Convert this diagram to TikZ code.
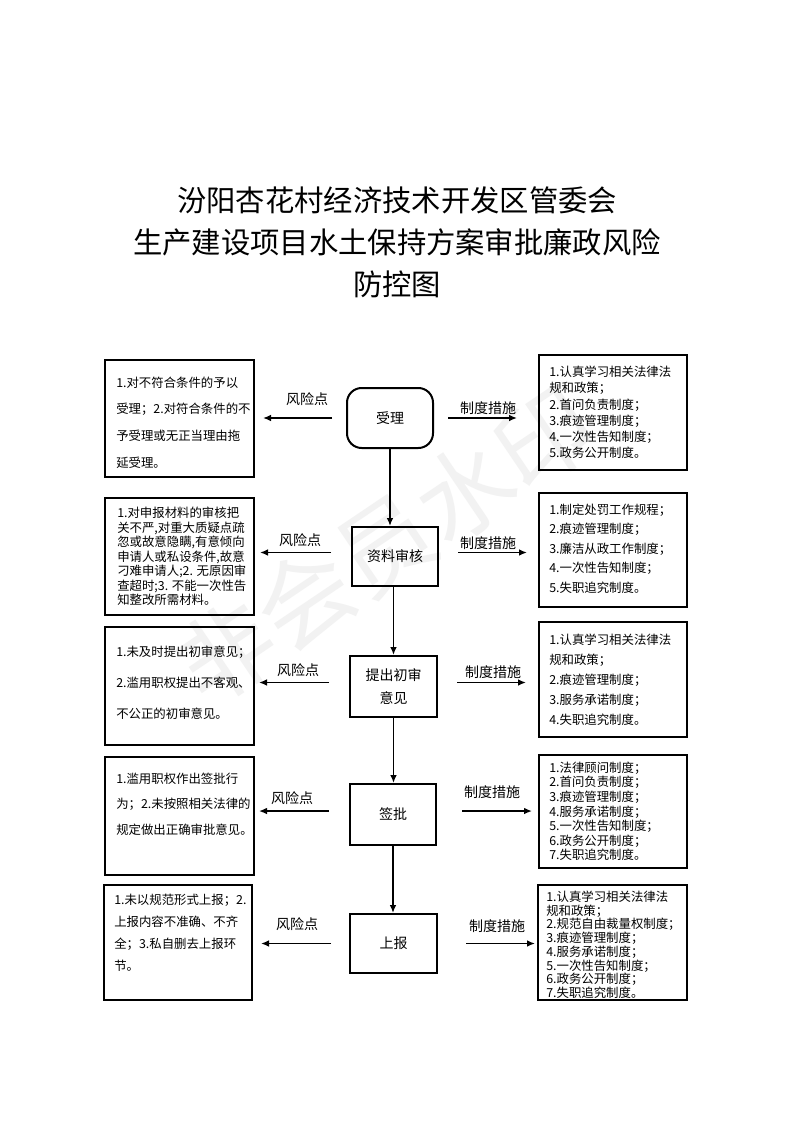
\documentclass[tikz,border=0pt]{standalone}
\usepackage{fontspec}
\setmainfont{Noto Sans CJK SC}
\usetikzlibrary{arrows.meta}
\begin{document}
\begin{tikzpicture}[x=0.75pt,y=-0.75pt,
  box/.style={draw, line width=1.5pt, inner sep=0pt},
  proc/.style={draw, line width=1.5pt, inner sep=0pt, font=\fontsize{10.5}{17}\selectfont, align=center},
  txt/.style={anchor=north west, inner sep=0pt, align=left},
  lab/.style={inner sep=0pt, font=\fontsize{10.5}{12}\selectfont},
  arr/.style={line width=1.1pt, -{Latex[length=6pt,width=5pt]}},
]
\useasboundingbox (0,0) rectangle (793,1122);
\fill[white] (0,0) rectangle (793,1122);
% watermark
\node[text=gray!10, rotate=34, font=\fontsize{72}{72}\selectfont, inner sep=0pt] (wm) at (385,545) {非会员水印};
% title
\node[align=center, inner sep=0pt, font=\fontsize{22}{31.5}\selectfont] (title) at (397,242) {汾阳杏花村经济技术开发区管委会\\生产建设项目水土保持方案审批廉政风险\\防控图};
% process nodes
\node[proc, rounded corners=11pt, minimum width=64.5pt, minimum height=45pt] (sl) at (390,418) {受理};
\node[proc, minimum width=64.5pt, minimum height=44.25pt] (zl) at (395,556.5) {资料审核};
\node[proc, minimum width=65.25pt, minimum height=45.75pt] (tc) at (393.5,686.5) {提出初审\\意见};
\node[proc, minimum width=64.5pt, minimum height=45.75pt] (qp) at (393,814.5) {签批};
\node[proc, minimum width=65.25pt, minimum height=44.25pt] (sb) at (393.5,943.5) {上报};
% left boxes
\node[box, minimum width=111.75pt, minimum height=87.75pt] (L1) at (179.5,418.5) {};
\node[box, minimum width=111.75pt, minimum height=87.75pt] (L2) at (179.5,556.5) {};
\node[box, minimum width=111.75pt, minimum height=88.5pt] (L3) at (179.5,686) {};
\node[box, minimum width=111.75pt, minimum height=88.5pt] (L4) at (179.5,816) {};
\node[box, minimum width=111pt, minimum height=86.25pt] (L5) at (178,942.5) {};
% right boxes
\node[box, minimum width=111pt, minimum height=86.25pt] (R1) at (613,412.5) {};
\node[box, minimum width=111pt, minimum height=85.5pt] (R2) at (613,550) {};
\node[box, minimum width=111pt, minimum height=86.25pt] (R3) at (613,679.5) {};
\node[box, minimum width=111pt, minimum height=84.75pt] (R4) at (613,811.5) {};
\node[box, minimum width=111.75pt, minimum height=86.25pt] (R5) at (612.5,942.5) {};
% texts left
\node[txt, font=\fontsize{9.3}{19.9}\selectfont] (tL1) at (116,376.7) {1.对不符合条件的予以\\受理；2.对符合条件的不\\予受理或无正当理由拖\\延受理。};
\node[txt, font=\fontsize{9.3}{10.9}\selectfont] (tL2) at (117,506.7) {1.对申报材料的审核把\\关不严,对重大质疑点疏\\忽或故意隐瞒,有意倾向\\申请人或私设条件,故意\\刁难申请人;2. 无原因审\\查超时;3. 不能一次性告\\知整改所需材料。};
\node[txt, font=\fontsize{9.3}{23.25}\selectfont] (tL3) at (116,645.7) {1.未及时提出初审意见；\\2.滥用职权提出不客观、\\不公正的初审意见。};
\node[txt, font=\fontsize{9.3}{19.1}\selectfont] (tL4) at (116,772.7) {1.滥用职权作出签批行\\为；2.未按照相关法律的\\规定做出正确审批意见。};
\node[txt, font=\fontsize{9.3}{16.5}\selectfont] (tL5) at (114,893.7) {1.未以规范形式上报；2.\\上报内容不准确、不齐\\全；3.私自删去上报环\\节。};
% texts right
\node[txt, font=\fontsize{9.3}{12.2}\selectfont] (tR1) at (549,365.7) {1.认真学习相关法律法\\规和政策；\\2.首问负责制度；\\3.痕迹管理制度；\\4.一次性告知制度；\\5.政务公开制度。};
\node[txt, font=\fontsize{9.3}{14.6}\selectfont] (tR2) at (549,503.7) {1.制定处罚工作规程；\\2.痕迹管理制度；\\3.廉洁从政工作制度；\\4.一次性告知制度；\\5.失职追究制度。};
\node[txt, font=\fontsize{9.3}{15}\selectfont] (tR3) at (549,633.7) {1.认真学习相关法律法\\规和政策；\\2.痕迹管理制度；\\3.服务承诺制度；\\4.失职追究制度。};
\node[txt, font=\fontsize{9.3}{10.9}\selectfont] (tR4) at (549,761.7) {1.法律顾问制度；\\2.首问负责制度；\\3.痕迹管理制度；\\4.服务承诺制度；\\5.一次性告知制度；\\6.政务公开制度；\\7.失职追究制度。};
\node[txt, font=\fontsize{9.3}{10.3}\selectfont] (tR5) at (546,890.7) {1.认真学习相关法律法\\规和政策；\\2.规范自由裁量权制度；\\3.痕迹管理制度；\\4.服务承诺制度；\\5.一次性告知制度；\\6.政务公开制度；\\7.失职追究制度。};
% vertical arrows
\draw[arr] (sl.south) -- (sl.south |- zl.north);
\draw[arr] (zl.south -| tc.north) -- (tc.north);
\draw[arr] (tc.south) -- (tc.south |- qp.north);
\draw[arr] (qp.south) -- (qp.south |- sb.north);
% left arrows
\draw[arr, shorten <=10.5pt, shorten >=6pt] (sl.west) -- (sl.west -| L1.east);
\draw[arr, shorten <=15pt, shorten >=3.75pt] ([yshift=3pt]zl.west) -- ([yshift=3pt]zl.west -| L2.east);
\draw[arr, shorten <=15pt, shorten >=3pt] ([yshift=3pt]tc.west) -- ([yshift=3pt]tc.west -| L3.east);
\draw[arr, shorten <=15pt, shorten >=3pt] ([yshift=2.6pt]qp.west) -- ([yshift=2.6pt]qp.west -| L4.east);
\draw[arr, shorten <=13.5pt, shorten >=6pt] (sb.west) -- (sb.west -| L5.east);
% right arrows
\draw[arr, shorten <=10.5pt, shorten >=15.75pt] (sl.east) -- (sl.east -| R1.west);
\draw[arr, shorten <=14.25pt, shorten >=8.25pt] ([yshift=3pt]zl.east) -- ([yshift=3pt]zl.east -| R2.west);
\draw[arr, shorten <=14.25pt, shorten >=9pt] ([yshift=3pt]tc.east) -- ([yshift=3pt]tc.east -| R3.west);
\draw[arr, shorten <=18.75pt, shorten >=4.5pt] ([yshift=2.6pt]qp.east) -- ([yshift=2.6pt]qp.east -| R4.west);
\draw[arr, shorten <=21pt, shorten >=1.5pt] (sb.east) -- (sb.east -| R5.west);
% labels
\node[lab] (a1) at (307,399) {风险点};
\node[lab] (b1) at (488,408) {制度措施};
\node[lab] (a2) at (300,540) {风险点};
\node[lab] (b2) at (488,543) {制度措施};
\node[lab] (a3) at (298,670) {风险点};
\node[lab] (b3) at (493,672) {制度措施};
\node[lab] (a4) at (292,798) {风险点};
\node[lab] (b4) at (492,792) {制度措施};
\node[lab] (a5) at (297,924) {风险点};
\node[lab] (b5) at (497,926) {制度措施};
\end{tikzpicture}
\end{document}
